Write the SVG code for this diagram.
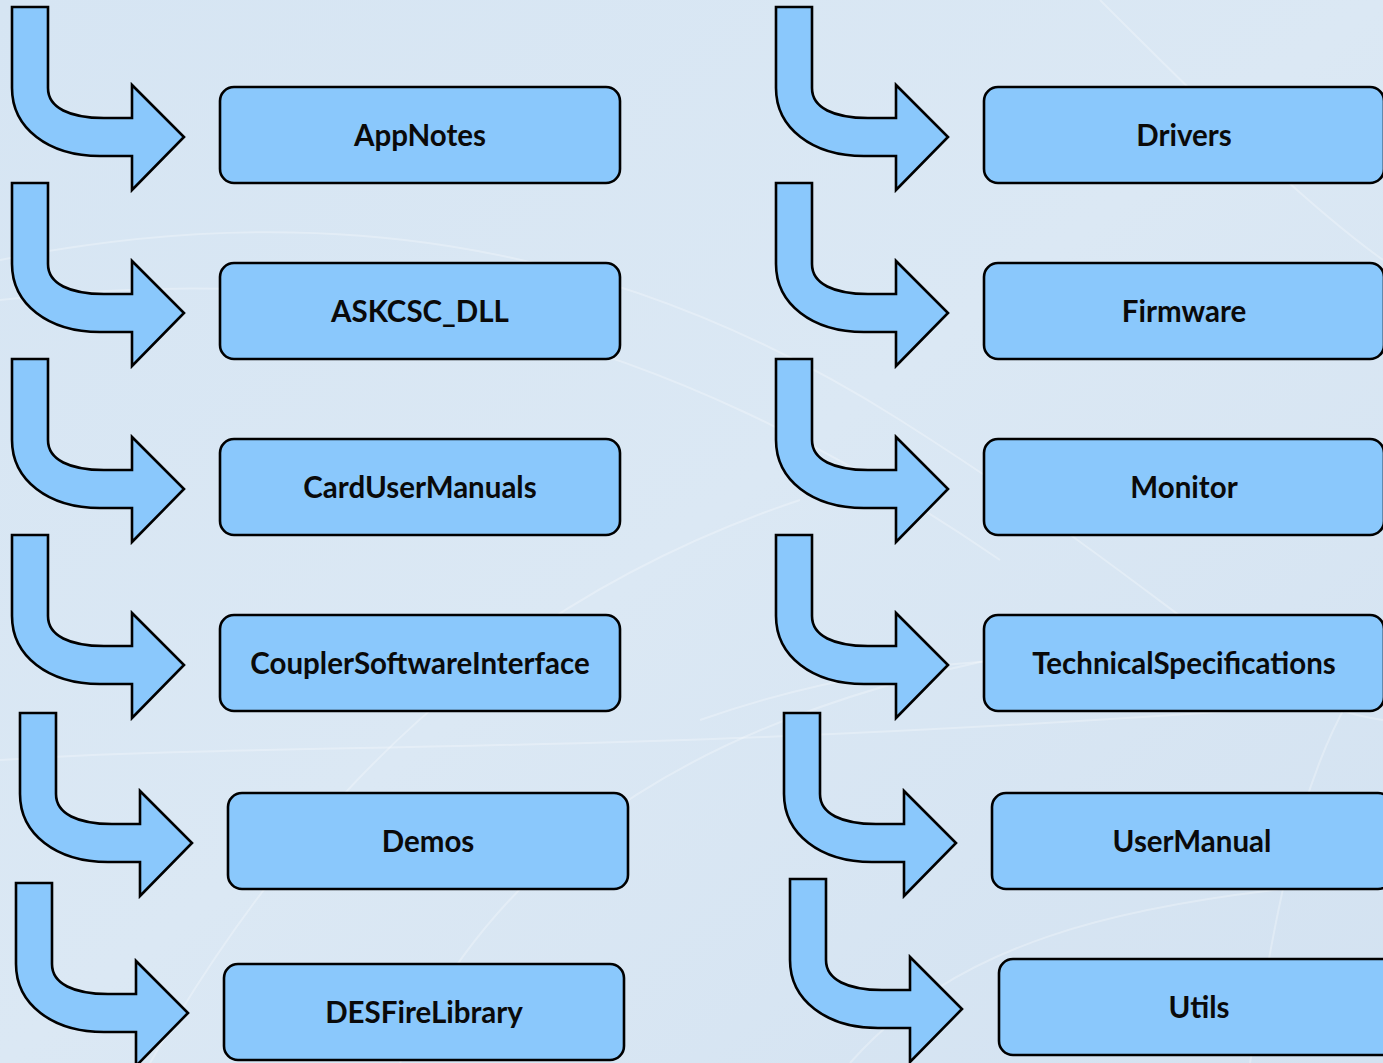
<svg xmlns="http://www.w3.org/2000/svg" xmlns:xlink="http://www.w3.org/1999/xlink" width="1383" height="1063" viewBox="0 0 1383 1063">
<style>
.box{fill:#8AC8FC;stroke:#000;stroke-width:2.6}
.arr{fill:#8AC8FC;stroke:#000;stroke-width:2.6;stroke-linejoin:miter}
.lbl{font-family:Lato,"Open Sans","Liberation Sans",sans-serif;font-weight:bold;font-size:29.5px;fill:#0a0a0a;text-anchor:middle}
.bgl{fill:none;stroke:#ffffff;stroke-opacity:0.28;stroke-width:2}
</style>
<defs>
<linearGradient id="bg" x1="0" y1="0" x2="1" y2="1">
<stop offset="0" stop-color="#d6e5f3"/>
<stop offset="0.5" stop-color="#dbe8f4"/>
<stop offset="1" stop-color="#d3e2f1"/>
</linearGradient>
<path id="arrow" class="arr" d="M12,7 H48 V88 C48,108 70,118 104,118 H132 V85 L184,137 L132,190 V156 H100 C48,156 12,128 12,88 Z"/>
</defs>
<rect width="1383" height="1063" fill="url(#bg)"/>
<g id="background-lines">
<path class="bgl" d="M0,260 C300,200 600,230 900,420 S1250,700 1383,720"/>
<path class="bgl" d="M0,300 C350,260 650,320 1000,560"/>
<path class="bgl" d="M150,1063 C300,800 500,600 800,500"/>
<path class="bgl" d="M400,1063 C500,850 700,700 1100,640"/>
<path class="bgl" d="M0,760 C300,740 600,760 1383,700"/>
<path class="bgl" d="M700,720 C900,650 1100,640 1383,690"/>
<path class="bgl" d="M1100,0 C1200,100 1300,200 1383,260"/>
<path class="bgl" d="M1250,1063 C1280,900 1300,750 1383,650"/>
<path class="bgl" d="M850,1063 C950,950 1100,900 1383,880"/>
</g>
<g id="connectors">
<use xlink:href="#arrow" href="#arrow" x="0" y="0"/>
<use xlink:href="#arrow" href="#arrow" x="0" y="176"/>
<use xlink:href="#arrow" href="#arrow" x="0" y="352"/>
<use xlink:href="#arrow" href="#arrow" x="0" y="528"/>
<use xlink:href="#arrow" href="#arrow" x="8" y="706"/>
<use xlink:href="#arrow" href="#arrow" x="4" y="876"/>
<use xlink:href="#arrow" href="#arrow" x="764" y="0"/>
<use xlink:href="#arrow" href="#arrow" x="764" y="176"/>
<use xlink:href="#arrow" href="#arrow" x="764" y="352"/>
<use xlink:href="#arrow" href="#arrow" x="764" y="528"/>
<use xlink:href="#arrow" href="#arrow" x="772" y="706"/>
<use xlink:href="#arrow" href="#arrow" x="778" y="872"/>
</g>
<g id="node-appnotes"><rect class="box" x="220" y="87" width="400" height="96" rx="14"/><text class="lbl" x="420" y="146">AppNotes</text></g>
<g id="node-askcsc-dll"><rect class="box" x="220" y="263" width="400" height="96" rx="14"/><text class="lbl" x="420" y="322">ASKCSC_DLL</text></g>
<g id="node-cardusermanuals"><rect class="box" x="220" y="439" width="400" height="96" rx="14"/><text class="lbl" x="420" y="498">CardUserManuals</text></g>
<g id="node-couplersoftwareinterface"><rect class="box" x="220" y="615" width="400" height="96" rx="14"/><text class="lbl" x="420" y="674">CouplerSoftwareInterface</text></g>
<g id="node-demos"><rect class="box" x="228" y="793" width="400" height="96" rx="14"/><text class="lbl" x="428" y="852">Demos</text></g>
<g id="node-desfirelibrary"><rect class="box" x="224" y="964" width="400" height="96" rx="14"/><text class="lbl" x="424" y="1023">DESFireLibrary</text></g>
<g id="node-drivers"><rect class="box" x="984" y="87" width="400" height="96" rx="14"/><text class="lbl" x="1184" y="146">Drivers</text></g>
<g id="node-firmware"><rect class="box" x="984" y="263" width="400" height="96" rx="14"/><text class="lbl" x="1184" y="322">Firmware</text></g>
<g id="node-monitor"><rect class="box" x="984" y="439" width="400" height="96" rx="14"/><text class="lbl" x="1184" y="498">Monitor</text></g>
<g id="node-technicalspecifications"><rect class="box" x="984" y="615" width="400" height="96" rx="14"/><text class="lbl" x="1184" y="674">TechnicalSpecifications</text></g>
<g id="node-usermanual"><rect class="box" x="992" y="793" width="400" height="96" rx="14"/><text class="lbl" x="1192" y="852">UserManual</text></g>
<g id="node-utils"><rect class="box" x="999" y="959" width="400" height="96" rx="14"/><text class="lbl" x="1199" y="1018">Utils</text></g>
</svg>
